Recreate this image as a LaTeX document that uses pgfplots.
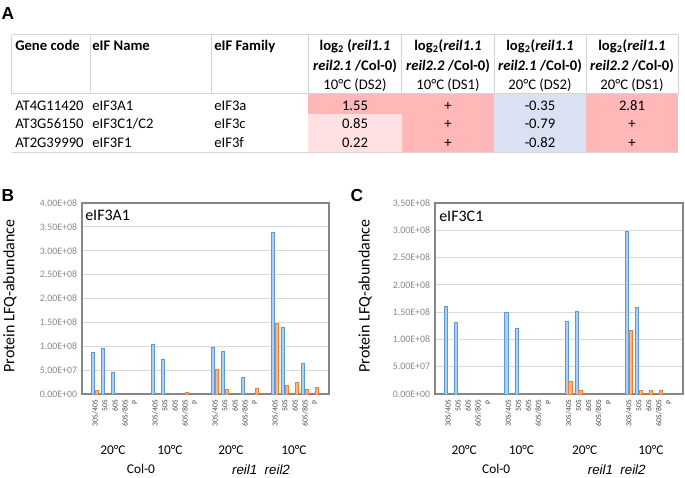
\documentclass[border=0pt]{standalone}
\usepackage{fontspec}
\setmainfont{Carlito}
\newfontfamily\arialf{Liberation Sans}
\usepackage{pgfplots}
\pgfplotsset{compat=1.18}
\definecolor{pinkA}{RGB}{255,183,183}
\definecolor{pinkB}{RGB}{255,225,228}
\definecolor{blueC}{RGB}{217,225,242}
\definecolor{gridc}{RGB}{217,217,217}
\definecolor{tabline}{RGB}{212,212,212}
\definecolor{barB}{RGB}{91,155,213}
\definecolor{barBf}{RGB}{178,206,238}
\definecolor{barO}{RGB}{237,125,49}
\definecolor{barOf}{RGB}{247,182,140}
\definecolor{framec}{RGB}{134,134,134}
\definecolor{ticklab}{RGB}{137,137,137}

\pgfplotsset{
  panel/.style={
    scale only axis, height=143.25pt,
    xmin=-1.3, xmax=23.4, ymin=0,
    scaled y ticks=false,
    axis line style={draw=framec, line width=1.1pt},
    ymajorgrids, grid style={draw=gridc, line width=0.75pt},
    major tick length=0pt,
    xtick={0,1,2,3,4,6,7,8,9,10,12,13,14,15,16,18,19,20,21,22},
    xticklabels={30S/40S,50S,60S,60S/80S,P,30S/40S,50S,60S,60S/80S,P,30S/40S,50S,60S,60S/80S,P,30S/40S,50S,60S,60S/80S,P},
    xticklabel style={rotate=90, anchor=east, font=\fontsize{5.8}{7}\selectfont, text=black!72, inner xsep=4.5pt, inner ysep=0pt},
    yticklabel style={font=\fontsize{7.4}{8}\selectfont, text=ticklab, inner xsep=3.5pt, inner ysep=0pt},
    clip=false,
  },
  blueb/.style={ybar, draw=barB, fill=barBf, line width=0.6pt, bar width=0.32, bar shift=-0.18},
  orangeb/.style={ybar, draw=barO, fill=barOf, line width=0.6pt, bar width=0.32, bar shift=0.18},
}
\tikzset{
  grplab/.style={font=\fontsize{10}{12}\selectfont, yshift=-42pt},
  genlab/.style={font=\fontsize{10}{12}\selectfont, yshift=-56.5pt},
}

\begin{document}
\begin{tikzpicture}
\path[use as bounding box] (0,0) rectangle (513.75pt,-358.5pt);
\begin{scope}[x=0.75pt,y=-0.75pt]
  % panel letters
  \node[font=\arialf\bfseries\fontsize{13}{15}\selectfont] at (8,14) {A};
  \node[font=\arialf\bfseries\fontsize{13}{15}\selectfont] at (8,196) {B};
  \node[font=\arialf\bfseries\fontsize{13}{15}\selectfont] at (357,196) {C};
  % table cell fills
  \fill[pinkA] (308.3,93.7) rectangle (401.7,113.7);
  \fill[pinkB] (308.3,113.7) rectangle (401.7,152.3);
  \fill[pinkA] (401.7,93.7) rectangle (494,152.3);
  \fill[blueC] (494,93.7) rectangle (586,152.3);
  \fill[pinkA] (586,93.7) rectangle (678,152.3);
  % table lines
  \draw[tabline, line width=0.75pt] (11.7,34.7) -- (678,34.7);
  \draw[tabline, line width=0.75pt] (11.7,93.7) -- (678,93.7);
  \draw[tabline, line width=0.75pt] (11.7,152.3) -- (678,152.3);
  \foreach \xx in {11.7,90,211.7,308.3,401.7,494,586,678}
    \draw[tabline, line width=0.75pt] (\xx,34.7) -- (\xx,93.7);
  % header text
  \begin{scope}[every node/.style={font=\fontsize{11}{13}\selectfont, inner sep=0pt}]
  \node[anchor=base west] at (15,50.5) {\textbf{Gene code}};
  \node[anchor=base west] at (92,50.5) {\textbf{eIF Name}};
  \node[anchor=base west] at (214,50.5) {\textbf{eIF Family}};
  \node[anchor=base] at (355,50.5) {\textbf{log\textsubscript{2} (\textit{reil1.1}}};
  \node[anchor=base] at (355,70) {\textbf{\textit{reil2.1} /Col-0)}};
  \node[anchor=base] at (355,89.5) {10°C (DS2)};
  \node[anchor=base] at (448,50.5) {\textbf{log\textsubscript{2}(\textit{reil1.1}}};
  \node[anchor=base] at (448,70) {\textbf{\textit{reil2.2} /Col-0)}};
  \node[anchor=base] at (448,89.5) {10°C (DS1)};
  \node[anchor=base] at (540,50.5) {\textbf{log\textsubscript{2}(\textit{reil1.1}}};
  \node[anchor=base] at (540,70) {\textbf{\textit{reil2.1} /Col-0)}};
  \node[anchor=base] at (540,89.5) {20°C (DS2)};
  \node[anchor=base] at (632,50.5) {\textbf{log\textsubscript{2}(\textit{reil1.1}}};
  \node[anchor=base] at (632,70) {\textbf{\textit{reil2.2} /Col-0)}};
  \node[anchor=base] at (632,89.5) {20°C (DS1)};
  % rows
  \node[anchor=base west] at (15,110) {AT4G11420};
  \node[anchor=base west] at (92,110) {eIF3A1};
  \node[anchor=base west] at (214,110) {eIF3a};
  \node[anchor=base] at (355,110) {1.55};
  \node[anchor=base] at (448,110) {+};
  \node[anchor=base] at (540,110) {-0.35};
  \node[anchor=base] at (632,110) {2.81};
  \node[anchor=base west] at (15,128.8) {AT3G56150};
  \node[anchor=base west] at (92,128.8) {eIF3C1/C2};
  \node[anchor=base west] at (214,128.8) {eIF3c};
  \node[anchor=base] at (355,128.8) {0.85};
  \node[anchor=base] at (448,128.8) {+};
  \node[anchor=base] at (540,128.8) {-0.79};
  \node[anchor=base] at (632,128.8) {+};
  \node[anchor=base west] at (15,147.5) {AT2G39990};
  \node[anchor=base west] at (92,147.5) {eIF3F1};
  \node[anchor=base west] at (214,147.5) {eIF3f};
  \node[anchor=base] at (355,147.5) {0.22};
  \node[anchor=base] at (448,147.5) {+};
  \node[anchor=base] at (540,147.5) {-0.82};
  \node[anchor=base] at (632,147.5) {+};
  \end{scope}
  % y labels and titles
  \node[rotate=90, font=\fontsize{12}{14}\selectfont] at (10,296) {Protein LFQ-abundance};
  \node[rotate=90, font=\fontsize{12}{14}\selectfont] at (365,296) {Protein LFQ-abundance};
  \node[anchor=west, inner sep=0pt, font=\fontsize{12}{14}\selectfont] at (85,215) {eIF3A1};
  \node[anchor=west, inner sep=0pt, font=\fontsize{12}{14}\selectfont] at (439,216) {eIF3C1};
\end{scope}

% Panel B
\begin{axis}[panel, at={(61.5pt,-295.5pt)}, anchor=south west, width=185.25pt,
  ymax=4e8,
  ytick={0,5e7,1e8,1.5e8,2e8,2.5e8,3e8,3.5e8,4e8},
  yticklabels={0.00E+00,5.00E+07,1.00E+08,1.50E+08,2.00E+08,2.50E+08,3.00E+08,3.50E+08,4.00E+08}]
\addplot[blueb] coordinates {(0,0.88e8) (1,0.965e8) (2,0.46e8) (6,1.035e8) (7,0.735e8) (12,0.985e8) (13,0.89e8) (15,0.35e8) (18,3.38e8) (19,1.39e8) (21,0.635e8)};
\addplot[orangeb] coordinates {(0,0.075e8) (9,0.042e8) (12,0.525e8) (13,0.103e8) (16,0.123e8) (18,1.48e8) (19,0.178e8) (20,0.246e8) (21,0.10e8) (22,0.14e8)};
\node[grplab] at (axis cs:1.8,0) {20°C};
\node[grplab] at (axis cs:7.5,0) {10°C};
\node[grplab] at (axis cs:13.6,0) {20°C};
\node[grplab] at (axis cs:19.9,0) {10°C};
\node[genlab] at (axis cs:4.6,0) {Col-0};
\node[genlab, font=\arialf\itshape\fontsize{10}{12}\selectfont] at (axis cs:16.6,0) {reil1\ \ reil2};
\end{axis}

% Panel C
\begin{axis}[panel, at={(326.25pt,-295.5pt)}, anchor=south west, width=186pt,
  ymax=3.5e8,
  ytick={0,5e7,1e8,1.5e8,2e8,2.5e8,3e8,3.5e8},
  yticklabels={0.00E+00,5.00E+07,1.00E+08,1.50E+08,2.00E+08,2.50E+08,3.00E+08,3.50E+08}]
\addplot[blueb] coordinates {(0,1.6e8) (1,1.31e8) (6,1.5e8) (7,1.21e8) (12,1.33e8) (13,1.51e8) (18,2.98e8) (19,1.58e8)};
\addplot[orangeb] coordinates {(12,0.24e8) (13,0.07e8) (18,1.16e8) (19,0.058e8) (20,0.058e8) (21,0.072e8)};
\node[grplab] at (axis cs:1.6,0) {20°C};
\node[grplab] at (axis cs:7.3,0) {10°C};
\node[grplab] at (axis cs:13.6,0) {20°C};
\node[grplab] at (axis cs:20.2,0) {10°C};
\node[genlab] at (axis cs:4.8,0) {Col-0};
\node[genlab, font=\arialf\itshape\fontsize{10}{12}\selectfont] at (axis cs:16.8,0) {reil1\ \ reil2};
\end{axis}
\end{tikzpicture}
\end{document}
